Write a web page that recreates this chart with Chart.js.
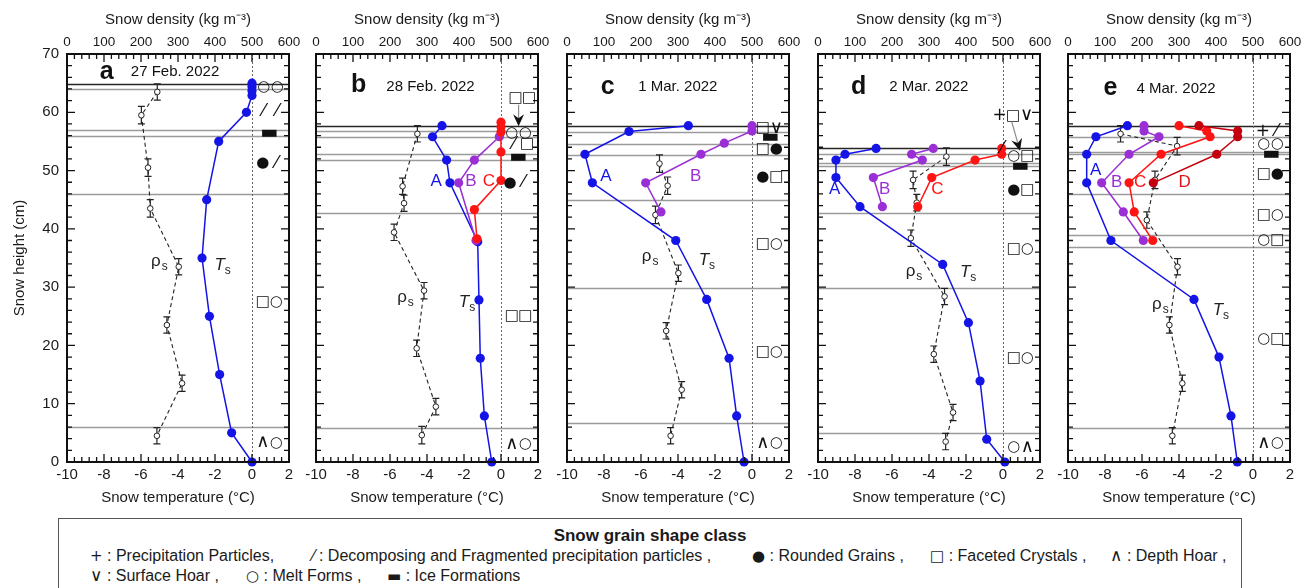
<!DOCTYPE html>
<html>
<head>
<meta charset="utf-8">
<script src="https://cdn.jsdelivr.net/npm/chart.js@4.4.1/dist/chart.umd.min.js"></script>
<style>
html,body{margin:0;padding:0;background:#fff;}
body{width:1314px;height:588px;overflow:hidden;position:relative;font-family:"Liberation Sans",Arial,Helvetica,sans-serif;color:#1a1a1a;}
canvas.pan{position:absolute;top:0;}
#legendBox{position:absolute;left:58px;top:518px;width:1184px;height:90px;border:1.5px solid #555;box-sizing:border-box;}
#legendTitle{position:absolute;left:58px;width:1184px;top:526px;text-align:center;font-weight:bold;font-size:17px;line-height:20px;}
.li{position:absolute;font-size:16px;line-height:20px;height:20px;white-space:pre;}
.li .sym{font-family:"DejaVu Sans",sans-serif;font-size:15px;line-height:0;}
.li .sym.big{font-size:17px;}
</style>
</head>
<body>
<div id="legendBox"></div>
<div id="legendTitle"></div>
<script>
// ---------------- DATA ----------------
// Panel a : 27 Feb. 2022
const aTsHeight = [65, 64.4, 63.7, 62.9, 60, 55, 45, 35, 25, 15, 5, 0];
const aTsTemp   = [0, 0, 0, 0, -0.3, -1.8, -2.45, -2.7, -2.3, -1.75, -1.1, 0];
const aRhoHeight = [63.5, 59.5, 50.5, 43.5, 33.5, 23.5, 13.5, 4.5];
const aRho       = [244, 201, 219, 225, 302, 270, 311, 243];
const aRhoErr    = [1.4, 1.5, 1.5, 1.5, 1.4, 1.4, 1.4, 1.4];
const aLayers    = [64.9, 64.0, 56.9, 55.9, 46.0, 6.05];
const aGrains    = ['○○', '⁄⁄', '▬', '●⁄', '□○', '∧○'];
const aGrainH    = [64.3, 60.2, 56.4, 51.2, 27.5, 3.3];

// Panel b : 28 Feb. 2022
const bATemp   = [-3.19, -3.7, -2.94, -2.76, -1.26, -1.19, -1.12, -0.9, -0.5];
const bAHeight = [57.7, 55.8, 51.8, 47.9, 37.8, 27.8, 17.8, 7.9, 0];
const bBTemp   = [-0.09, -1.44, -2.29, -1.35];
const bBHeight = [55.8, 51.8, 47.9, 38.0];
const bCTemp   = [0, 0, 0, 0, 0, -1.44, -1.3];
const bCHeight = [58.3, 57.5, 56.6, 53.2, 48.3, 43.3, 38.3];
const bRhoHeight = [56.3, 47.3, 44.4, 39.4, 29.4, 19.5, 9.5, 4.6];
const bRho       = [274, 234, 238, 211, 292, 272, 324, 286];
const bRhoErr    = [1.4, 1.4, 1.4, 1.4, 1.4, 1.4, 1.4, 1.5];
const bLayers    = [57.6, 56.8, 55.7, 52.8, 51.8, 42.8, 5.9];
const bGrains    = ['□□', '○○', '⁄□', '▬', '●⁄', '□□', '∧○'];
const bGrainH    = [62.4, 56.4, 54.5, 52.3, 47.9, 25.0, 3.1];

// Panel c : 1 Mar. 2022
const cATemp   = [-3.44, -6.65, -9.03, -8.63, -4.12, -2.45, -1.24, -0.83, -0.43];
const cAHeight = [57.7, 56.7, 52.8, 47.9, 38.0, 27.9, 17.8, 7.9, 0];
const cBTemp   = [0, 0, -1.5, -2.76, -5.75, -4.92];
const cBHeight = [57.7, 56.8, 54.7, 52.8, 47.9, 42.9];
const cRhoHeight = [51.2, 47.4, 42.4, 32.4, 22.5, 12.4, 4.5];
const cRho       = [250, 272, 239, 301, 268, 310, 280];
const cRhoErr    = [1.5, 1.5, 1.5, 1.4, 1.4, 1.4, 1.4];
const cLayers    = [57.7, 56.6, 54.6, 52.7, 44.9, 29.8, 6.7];
const cGrains    = ['□∨', '▬', '□●', '●□', '□○', '□○', '∧○'];
const cGrainH    = [57.2, 55.8, 53.7, 48.8, 37.3, 18.9, 3.2];

// Panel d : 2 Mar. 2022
const dATemp   = [-6.86, -8.54, -9.03, -9.03, -7.73, -3.26, -1.87, -1.24, -0.88, 0.1];
const dAHeight = [53.8, 52.8, 51.8, 48.8, 43.8, 33.9, 23.9, 13.9, 3.9, 0];
const dBTemp   = [-3.77, -4.94, -4.36, -7.01, -6.52];
const dBHeight = [53.8, 52.8, 51.8, 48.8, 43.8];
const dCTemp   = [-0.07, -0.07, -1.51, -3.85, -4.61];
const dCHeight = [53.8, 52.8, 51.8, 48.8, 43.8];
const dRhoHeight = [52.4, 48.4, 44.5, 38.4, 28.4, 18.5, 8.5, 3.5];
const dRho       = [347, 257, 267, 251, 342, 313, 365, 345];
const dRhoErr    = [1.5, 1.5, 1.4, 1.4, 1.4, 1.4, 1.4, 1.4];
const dLayers    = [53.9, 52.9, 51.3, 50.8, 42.8, 29.8, 5.0];
const dGrains    = ['+□∨', '⁄', '○□', '▬', '●□', '□○', '□○', '○∧'];
const dGrainH    = [59.4, 53.8, 52.4, 50.7, 46.7, 36.5, 17.8, 2.6];

// Panel e : 4 Mar. 2022
const eATemp   = [-6.79, -8.49, -8.99, -8.99, -7.68, -3.19, -1.84, -1.19, -0.85];
const eAHeight = [57.7, 55.8, 52.8, 47.9, 38.0, 27.9, 18.0, 7.9, 0];
const eBTemp   = [-5.89, -5.89, -5.08, -6.7, -8.18, -7.01, -5.93];
const eBHeight = [57.7, 56.8, 55.8, 52.8, 47.9, 42.9, 38.0];
const eCTemp   = [-4.0, -2.5, -2.32, -4.97, -6.7, -6.42, -5.42];
const eCHeight = [57.7, 56.8, 55.8, 52.8, 47.9, 42.9, 38.0];
const eDTemp   = [-2.92, -0.83, -0.83, -1.96, -5.39];
const eDHeight = [57.7, 56.8, 55.8, 52.8, 47.9];
const eRhoHeight = [56.3, 54.2, 48.4, 41.5, 33.5, 23.5, 13.5, 4.5];
const eRho       = [142, 295, 235, 213, 296, 274, 309, 282];
const eRhoErr    = [1.4, 1.5, 1.5, 1.4, 1.4, 1.4, 1.4, 1.4];
const eLayers    = [57.7, 55.8, 53.2, 52.8, 45.9, 38.9, 36.9, 5.8];
const eGrains    = ['+⁄', '○○', '▬', '□●', '□○', '○□', '○□', '∧○'];
const eGrainH    = [56.7, 54.5, 52.8, 49.4, 42.4, 38.0, 21.0, 3.2];

// Axis ranges / tick steps
const tempMin = -10, tempMax = 2, tempStep = 2;
const densMin = 0, densMax = 600, densStep = 100;
const heightMin = 0, heightMax = 70, heightStep = 10;

// Text
const panelLetters = ['a', 'b', 'c', 'd', 'e'];
const panelDates = ['27 Feb. 2022', '28 Feb. 2022', '1 Mar. 2022', '2 Mar. 2022', '4 Mar. 2022'];
const legendTitleText = 'Snow grain shape class';
const legendSymbols = ['+', '⁄', '●', '□', '∧', '∨', '○', '▬'];
const legendNames = ['Precipitation Particles,', 'Decomposing and Fragmented precipitation particles ,',
  'Rounded Grains ,', 'Faceted Crystals ,', 'Depth Hoar ,', 'Surface Hoar ,', 'Melt Forms ,', 'Ice Formations'];

// ---------------- STYLE / LAYOUT ----------------
const FONT = '"Liberation Sans", Arial, Helvetica, sans-serif';
const SYMFONT = '"DejaVu Sans", sans-serif';
const BLUE = '#1414e6', PURPLE = '#9a2fd6', RED = '#ff1414', DRED = '#c4000f', INK = '#1a1a1a';
const PLOT_LEFT = [67, 316, 567, 818, 1068];
const PLOT_W = 222, PLOT_TOP = 54, PLOT_BOTTOM = 462, CANVAS_H = 520;
const legendRows = [[0, 1, 2, 3, 4], [5, 6, 7]];
const legendX = [[90, 312, 752, 930, 1110], [90, 246, 387]];
const legendY = [556, 576];
const GLYPH_CELL = 13.5;

const panels = [
  { layers: aLayers, rho: aRho, rhoH: aRhoHeight, rhoErr: aRhoErr, grains: aGrains, grainH: aGrainH,
    grainX: [1.0, 1.0, 0.95, 0.95, 0.95, 0.95],
    profiles: [{ name: '', color: BLUE, t: aTsTemp, h: aTsHeight }],
    letterAt: [-7.85, 66.9], dateAt: [-6.55, 66.9], rhoLabel: [-5.2, 34.6], tsLabel: [-1.75, 34.0] },
  { layers: bLayers, rho: bRho, rhoH: bRhoHeight, rhoErr: bRhoErr, grains: bGrains, grainH: bGrainH,
    grainX: [1.15, 0.95, 1.05, 0.95, 0.85, 0.95, 0.95],
    arrow: [0.95, 61.3, 0.95, 57.6],
    profiles: [{ name: 'A', color: BLUE, t: bATemp, h: bAHeight, at: [-3.5, 48.1] },
               { name: 'B', color: PURPLE, t: bBTemp, h: bBHeight, at: [-1.62, 48.1] },
               { name: 'C', color: RED, t: bCTemp, h: bCHeight, at: [-0.65, 48.1] }],
    letterAt: [-7.7, 64.7], dateAt: [-6.2, 64.3], rhoLabel: [-5.35, 28.4], tsLabel: [-2.0, 27.6] },
  { layers: cLayers, rho: cRho, rhoH: cRhoHeight, rhoErr: cRhoErr, grains: cGrains, grainH: cGrainH,
    grainX: [0.95, 1.0, 0.95, 0.95, 0.95, 0.95, 0.95],
    profiles: [{ name: 'A', color: BLUE, t: cATemp, h: cAHeight, at: [-7.9, 49.0] },
               { name: 'B', color: PURPLE, t: cBTemp, h: cBHeight, at: [-3.05, 49.0] }],
    letterAt: [-7.8, 64.3], dateAt: [-6.15, 64.3], rhoLabel: [-5.7, 35.6], tsLabel: [-2.6, 34.8] },
  { layers: dLayers, rho: dRho, rhoH: dRhoHeight, rhoErr: dRhoErr, grains: dGrains, grainH: dGrainH,
    grainX: [0.55, -0.05, 0.95, 0.95, 0.95, 0.95, 0.95, 0.95],
    arrow: [0.47, 58.4, 0.92, 53.4],
    profiles: [{ name: 'A', color: BLUE, t: dATemp, h: dAHeight, at: [-9.1, 46.7] },
               { name: 'B', color: PURPLE, t: dBTemp, h: dBHeight, at: [-6.4, 46.7] },
               { name: 'C', color: RED, t: dCTemp, h: dCHeight, at: [-3.55, 46.7] }],
    letterAt: [-7.8, 64.3], dateAt: [-6.15, 64.3], rhoLabel: [-5.0, 32.9], tsLabel: [-2.05, 32.7] },
  { layers: eLayers, rho: eRho, rhoH: eRhoHeight, rhoErr: eRhoErr, grains: eGrains, grainH: eGrainH,
    grainX: [0.9, 0.95, 1.0, 0.95, 0.95, 0.95, 0.95, 0.95],
    profiles: [{ name: 'A', color: BLUE, t: eATemp, h: eAHeight, at: [-8.5, 50.0] },
               { name: 'B', color: PURPLE, t: eBTemp, h: eBHeight, at: [-7.37, 47.9] },
               { name: 'C', color: RED, t: eCTemp, h: eCHeight, at: [-6.1, 47.9] },
               { name: 'D', color: DRED, t: eDTemp, h: eDHeight, at: [-3.7, 47.9], labelColor: '#e0141e' }],
    letterAt: [-7.7, 64.1], dateAt: [-6.3, 64.1], rhoLabel: [-5.2, 27.2], tsLabel: [-1.9, 26.2] }
];

Chart.defaults.font.family = FONT;
Chart.defaults.color = INK;

function glyphFont(ch) {
  if (ch === '∧' || ch === '∨') return '18px ' + SYMFONT;
  if (ch === '▬') return '19px ' + SYMFONT;
  if (ch === '⁄') return '17px ' + SYMFONT;
  if (ch === '+') return '17px ' + SYMFONT;
  return '15px ' + SYMFONT;
}

function drawGlyphs(ctx, str, cx, cy) {
  const chars = Array.from(str);
  const start = cx - (chars.length - 1) * GLYPH_CELL / 2;
  ctx.textAlign = 'center';
  ctx.textBaseline = 'middle';
  chars.forEach((ch, i) => {
    ctx.font = glyphFont(ch);
    ctx.fillText(ch, start + i * GLYPH_CELL, cy);
  });
}

function subText(ctx, main, sub, px, py, italic) {
  ctx.textAlign = 'left';
  ctx.textBaseline = 'alphabetic';
  ctx.font = (italic ? 'italic ' : '') + '17px ' + FONT;
  const w = ctx.measureText(main).width;
  const x0 = px - w / 2;
  ctx.fillText(main, x0, py + 6);
  ctx.font = '12px ' + FONT;
  ctx.fillText(sub, x0 + w + (italic ? 0 : 1), py + 10);
}

function makeOverlay(p, idx) {
  return {
    id: 'overlay' + idx,
    beforeDatasetsDraw(chart) {
      const { ctx, chartArea: a } = chart;
      const { x, x2, y } = chart.scales;
      ctx.save();
      p.layers.forEach((h, i) => {
        const py = Math.round(y.getPixelForValue(h)) + 0.5;
        ctx.beginPath();
        ctx.strokeStyle = i === 0 ? '#262626' : '#9b9b9b';
        ctx.lineWidth = i === 0 ? 1.6 : 1.3;
        ctx.moveTo(a.left, py); ctx.lineTo(a.right, py); ctx.stroke();
      });
      const x0 = Math.round(x.getPixelForValue(0)) + 0.5;
      ctx.setLineDash([2, 2]);
      ctx.strokeStyle = '#666'; ctx.lineWidth = 1;
      ctx.beginPath(); ctx.moveTo(x0, a.top); ctx.lineTo(x0, a.bottom); ctx.stroke();
      ctx.setLineDash([]);
      ctx.strokeStyle = '#222'; ctx.lineWidth = 1.2;
      p.rho.forEach((r, i) => {
        const px = x2.getPixelForValue(r);
        const y1 = y.getPixelForValue(p.rhoH[i] + p.rhoErr[i]);
        const y2 = y.getPixelForValue(p.rhoH[i] - p.rhoErr[i]);
        ctx.beginPath();
        ctx.moveTo(px, y1); ctx.lineTo(px, y2);
        ctx.moveTo(px - 3.5, y1); ctx.lineTo(px + 3.5, y1);
        ctx.moveTo(px - 3.5, y2); ctx.lineTo(px + 3.5, y2);
        ctx.stroke();
      });
      ctx.restore();
    },
    afterDatasetsDraw(chart) {
      const { ctx, chartArea: a } = chart;
      const { x, x2, y } = chart.scales;
      ctx.save();
      ctx.strokeStyle = '#111'; ctx.lineWidth = 2;
      ctx.strokeRect(a.left, a.top, a.right - a.left, a.bottom - a.top);
      ctx.lineWidth = 1.3;
      ctx.beginPath();
      for (let v = heightMin; v <= heightMax + 1e-9; v += 2) {
        const len = Math.abs(v % 10) < 1e-9 ? 8 : 5;
        const py = y.getPixelForValue(v);
        ctx.moveTo(a.left, py); ctx.lineTo(a.left + len, py);
        ctx.moveTo(a.right, py); ctx.lineTo(a.right - len, py);
      }
      for (let k = 0; k <= 30; k++) {
        const len = k % 5 === 0 ? 8 : 5;
        const pb = x.getPixelForValue(tempMin + k * 0.4);
        ctx.moveTo(pb, a.bottom); ctx.lineTo(pb, a.bottom - len);
        const pt = x2.getPixelForValue(densMin + k * 20);
        ctx.moveTo(pt, a.top); ctx.lineTo(pt, a.top + len);
      }
      ctx.stroke();
      ctx.fillStyle = '#111';
      ctx.textBaseline = 'middle';
      ctx.textAlign = 'center';
      ctx.font = 'bold 25px ' + FONT;
      ctx.fillText(panelLetters[idx], x.getPixelForValue(p.letterAt[0]), y.getPixelForValue(p.letterAt[1]));
      ctx.textAlign = 'left';
      ctx.font = '15px ' + FONT;
      ctx.fillText(panelDates[idx], x.getPixelForValue(p.dateAt[0]), y.getPixelForValue(p.dateAt[1]));
      ctx.textAlign = 'center';
      ctx.font = '17px ' + FONT;
      p.profiles.forEach(pr => {
        if (!pr.name) return;
        ctx.fillStyle = pr.labelColor || pr.color;
        ctx.fillText(pr.name, x.getPixelForValue(pr.at[0]), y.getPixelForValue(pr.at[1]));
      });
      ctx.fillStyle = '#222';
      subText(ctx, 'ρ', 's', x.getPixelForValue(p.rhoLabel[0]), y.getPixelForValue(p.rhoLabel[1]), false);
      subText(ctx, 'T', 's', x.getPixelForValue(p.tsLabel[0]), y.getPixelForValue(p.tsLabel[1]), true);
      ctx.fillStyle = '#111';
      p.grains.forEach((g, i) => {
        drawGlyphs(ctx, g, x.getPixelForValue(p.grainX[i]), y.getPixelForValue(p.grainH[i]));
      });
      if (p.arrow) {
        const [t1, h1, t2, h2] = p.arrow;
        const X1 = x.getPixelForValue(t1), Y1 = y.getPixelForValue(h1);
        const X2 = x.getPixelForValue(t2), Y2 = y.getPixelForValue(h2);
        const L = Math.hypot(X2 - X1, Y2 - Y1), dx = (X2 - X1) / L, dy = (Y2 - Y1) / L;
        const nx = -dy, ny = dx;
        ctx.strokeStyle = '#8a8a8a'; ctx.lineWidth = 1.2;
        ctx.beginPath(); ctx.moveTo(X1, Y1); ctx.lineTo(X2 - dx * 8, Y2 - dy * 8); ctx.stroke();
        ctx.fillStyle = '#111';
        ctx.beginPath();
        ctx.moveTo(X2, Y2);
        ctx.lineTo(X2 - dx * 12 + nx * 5.5, Y2 - dy * 12 + ny * 5.5);
        ctx.lineTo(X2 - dx * 8, Y2 - dy * 8);
        ctx.lineTo(X2 - dx * 12 - nx * 5.5, Y2 - dy * 12 - ny * 5.5);
        ctx.closePath(); ctx.fill();
      }
      ctx.restore();
    }
  };
}

panels.forEach((p, idx) => {
  const canvas = document.createElement('canvas');
  canvas.className = 'pan';
  const padL = idx === 0 ? 0 : 16, padR = 14;
  const yW = PLOT_LEFT[0];
  const left = idx === 0 ? 0 : PLOT_LEFT[idx] - padL;
  const width = idx === 0 ? yW + PLOT_W + padR : padL + PLOT_W + padR;
  canvas.width = width; canvas.height = CANVAS_H;
  canvas.style.left = left + 'px';
  canvas.style.width = width + 'px'; canvas.style.height = CANVAS_H + 'px';
  document.body.appendChild(canvas);

  const datasets = [];
  p.profiles.slice().reverse().forEach(pr => {
    datasets.push({
      label: pr.name || 'Ts',
      data: pr.t.map((t, i) => ({ x: t, y: pr.h[i] })),
      xAxisID: 'x', yAxisID: 'y', showLine: true,
      borderColor: pr.color, backgroundColor: pr.color, borderWidth: 1.5,
      pointRadius: 4.6, pointBackgroundColor: pr.color, pointBorderColor: pr.color, pointBorderWidth: 0,
      clip: false
    });
  });
  datasets.push({
    label: 'rho',
    data: p.rho.map((r, i) => ({ x: r, y: p.rhoH[i] })),
    xAxisID: 'x2', yAxisID: 'y', showLine: true,
    borderColor: '#222', borderWidth: 1.1, borderDash: [4, 3],
    pointRadius: 2.8, pointBackgroundColor: '#fff', pointBorderColor: '#222', pointBorderWidth: 1,
    clip: false
  });

  new Chart(canvas, {
    type: 'scatter',
    data: { datasets },
    plugins: [makeOverlay(p, idx)],
    options: {
      responsive: false, animation: false, devicePixelRatio: 1,
      layout: { padding: { left: padL, right: padR, top: 0, bottom: 0 } },
      plugins: { legend: { display: false }, tooltip: { enabled: false } },
      events: [],
      scales: {
        x: {
          type: 'linear', position: 'bottom', min: tempMin, max: tempMax,
          ticks: { stepSize: tempStep, font: { size: 15 }, color: INK, padding: 4, maxRotation: 0, autoSkip: false },
          grid: { display: false, drawTicks: false }, border: { display: false },
          title: { display: true, text: 'Snow temperature (°C)', font: { size: 15 }, color: INK, padding: { top: 0, bottom: 13 } },
          afterFit(s) { s.height = CANVAS_H - PLOT_BOTTOM; s.paddingLeft = 0; s.paddingRight = 0; }
        },
        x2: {
          type: 'linear', position: 'top', min: densMin, max: densMax,
          ticks: { stepSize: densStep, font: { size: 13.5 }, color: INK, padding: 4, maxRotation: 0, autoSkip: false },
          grid: { display: false, drawTicks: false }, border: { display: false },
          title: { display: true, text: 'Snow density (kg m⁻³)', font: { size: 15 }, color: INK, padding: { top: 11, bottom: 0 } },
          afterFit(s) { s.height = PLOT_TOP; s.paddingLeft = 0; s.paddingRight = 0; }
        },
        y: {
          type: 'linear', position: 'left', min: heightMin, max: heightMax, display: idx === 0,
          ticks: { stepSize: heightStep, font: { size: 15 }, color: INK, padding: 8 },
          grid: { display: false, drawTicks: false }, border: { display: false },
          title: { display: true, text: 'Snow height (cm)', font: { size: 15 }, color: INK, padding: { top: 11, bottom: 0 } },
          afterFit(s) { s.width = idx === 0 ? yW : 0; s.paddingTop = 0; s.paddingBottom = 0; }
        }
      }
    }
  });
});

// Legend (HTML text)
document.getElementById('legendTitle').textContent = legendTitleText;
legendRows.forEach((row, r) => {
  row.forEach((k, j) => {
    const el = document.createElement('div');
    el.className = 'li';
    el.style.left = legendX[r][j] + 'px';
    el.style.top = (legendY[r] - 10) + 'px';
    const s = document.createElement('span');
    s.className = 'sym' + ((legendSymbols[k] === '∧' || legendSymbols[k] === '∨') ? ' big' : '');
    s.textContent = legendSymbols[k];
    el.appendChild(s);
    el.appendChild(document.createTextNode(' : ' + legendNames[k]));
    document.body.appendChild(el);
  });
});
</script>
</body>
</html>
